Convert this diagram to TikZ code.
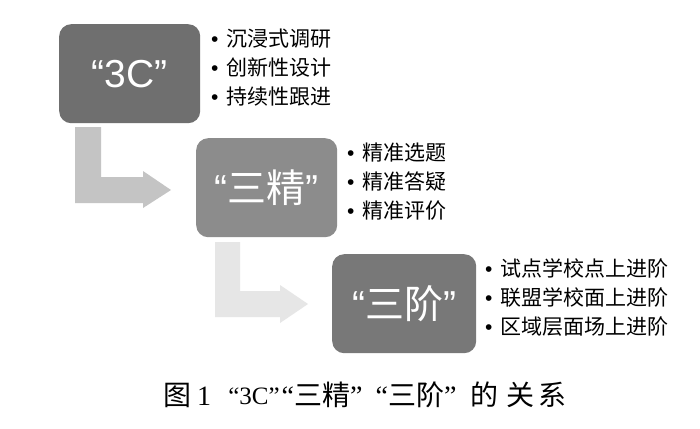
\documentclass[tikz,border=0pt]{standalone}
\usepackage{fontspec}
\setmainfont{Liberation Serif}
\newfontfamily\cjk{Noto Sans CJK SC}
\newfontfamily\lsans{Liberation Sans}
\newcommand{\bl}{{\lsans •}\hspace{8pt}}
\newcommand{\myLq}{{\lsans “}}
\newcommand{\myRq}{{\lsans ”}}
\usetikzlibrary{positioning}
\definecolor{boxA}{HTML}{6F6F6F}
\definecolor{boxB}{HTML}{8C8C8C}
\definecolor{boxC}{HTML}{787878}
\definecolor{arrA}{HTML}{C4C4C4}
\definecolor{arrB}{HTML}{E6E6E6}
\tikzset{
  stagebox/.style={rounded corners=12pt, inner sep=0pt, minimum width=141pt, minimum height=99pt, text=white, font=\cjk\fontsize{39}{41}\selectfont},
  bullist/.style={anchor=north west, inner sep=0pt, align=left, text=black, font=\cjk\fontsize{21}{29}\selectfont},
  cappart/.style={anchor=center, inner sep=0pt, text=black, font=\fontsize{28}{30}\selectfont},
}
\begin{document}
\begin{tikzpicture}[x=1pt,y=-1pt]
\useasboundingbox[fill=white] (0,0) rectangle (700,428);
% arrows
\fill[arrA] (75,127) -- (101,127) -- (101,177) -- (143,177) -- (143,171) -- (171,190) -- (143,208) -- (143,203) -- (75,203) -- cycle;
\fill[arrB] (215,242) -- (240,242) -- (240,291) -- (280,291) -- (280,285) -- (308,304) -- (280,323) -- (280,317) -- (215,317) -- cycle;
% boxes
\node[stagebox, fill=boxA, anchor=north west] (b1) at (59,24) {{\lsans“3C”}};
\node[stagebox, fill=boxB, anchor=north west] (b2) at (196,138) {\myLq 三精\myRq};
\node[stagebox, fill=boxC, anchor=north west, minimum width=144pt] (b3) at (332,254) {\myLq 三阶\myRq};
% lists
\node[bullist] (l1) at (211,29) {\bl 沉浸式调研\\\bl 创新性设计\\\bl 持续性跟进};
\node[bullist] (l2) at (347,143) {\bl 精准选题\\\bl 精准答疑\\\bl 精准评价};
\node[bullist] (l3) at (485,258) {\bl 试点学校点上进阶\\\bl 联盟学校面上进阶\\\bl 区域层面场上进阶};
% caption
\node[cappart] (c1) at (177,395) {\cjk 图};
\node[cappart] (c2) at (204,396) {1};
\node[cappart, font=\fontsize{25}{27}\selectfont] (c3) at (254,396) {“3C”};
\node[cappart] (c4) at (322,395) {“{\cjk 三精}”};
\node[cappart] (c5) at (416,395) {“{\cjk 三阶}”};
\node[cappart] (c6) at (484,395) {\cjk 的};
\node[cappart] (c7) at (520,395) {\cjk 关};
\node[cappart] (c8) at (552,395) {\cjk 系};
\end{tikzpicture}
\end{document}
